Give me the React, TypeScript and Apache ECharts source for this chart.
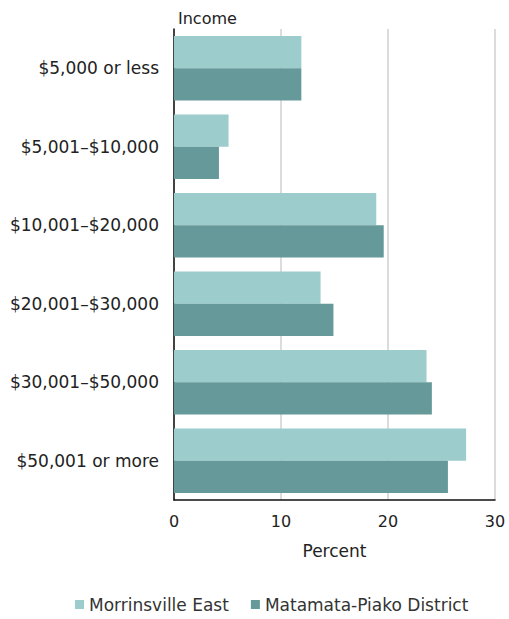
import React, { useEffect, useRef } from "react";
import * as echarts from "echarts";

const categories = [
  "$5,000 or less",
  "$5,001–$10,000",
  "$10,001–$20,000",
  "$20,001–$30,000",
  "$30,001–$50,000",
  "$50,001 or more",
];
const morrinsvilleEast = [11.9, 5.1, 18.9, 13.7, 23.6, 27.3];
const matamataPiako = [11.9, 4.2, 19.6, 14.9, 24.1, 25.6];
const seriesNames = ["Morrinsville East", "Matamata-Piako District"];

export default function App() {
  const ref = useRef<HTMLDivElement>(null);
  useEffect(() => {
    if (!ref.current) return;
    const chart = echarts.init(ref.current, undefined, { renderer: "svg" });
    const font = "DejaVu Sans, sans-serif";
    chart.setOption({
      animation: false,
      textStyle: { fontFamily: font },
      title: {
        text: "Income",
        left: 173,
        top: 5,
        textStyle: { fontSize: 16, fontWeight: "normal", color: "#222", fontFamily: font },
      },
      legend: {
        bottom: 1,
        left: 70,
        itemWidth: 9,
        itemHeight: 9,
        itemGap: 22,
        itemTextGap: 4,
        icon: "rect",
        textStyle: { fontSize: 17, color: "#333", fontFamily: font },
        data: seriesNames,
      },
      grid: { left: 174, right: 14, top: 29, bottom: 119, containLabel: false },
      xAxis: {
        type: "value",
        min: 0,
        max: 30,
        interval: 10,
        name: "Percent",
        nameLocation: "middle",
        nameGap: 42,
        nameTextStyle: { fontSize: 17, color: "#222", fontFamily: font },
        axisLine: { show: true, lineStyle: { color: "#111", width: 1.5 } },
        axisTick: { show: false },
        axisLabel: { fontSize: 16, color: "#222", margin: 13, fontFamily: font },
        splitLine: { show: true, lineStyle: { color: "#d0d0d0", width: 1.5 } },
      },
      yAxis: {
        type: "category",
        inverse: true,
        data: categories,
        axisLine: { show: true, lineStyle: { color: "#111", width: 1.5 } },
        axisTick: { show: false },
        axisLabel: { fontSize: 17, color: "#222", margin: 15, fontFamily: font },
        splitLine: { show: false },
      },
      series: [
        {
          name: seriesNames[0],
          type: "bar",
          data: morrinsvilleEast,
          barGap: "0%",
          barCategoryGap: "18%",
          itemStyle: { color: "#9ccccc" },
        },
        {
          name: seriesNames[1],
          type: "bar",
          data: matamataPiako,
          barGap: "0%",
          barCategoryGap: "18%",
          itemStyle: { color: "#669999" },
        },
      ],
    });
    return () => chart.dispose();
  }, []);
  return <div ref={ref} style={{ width: 509, height: 619, position: "absolute", left: 0, top: 0 }} />;
}
